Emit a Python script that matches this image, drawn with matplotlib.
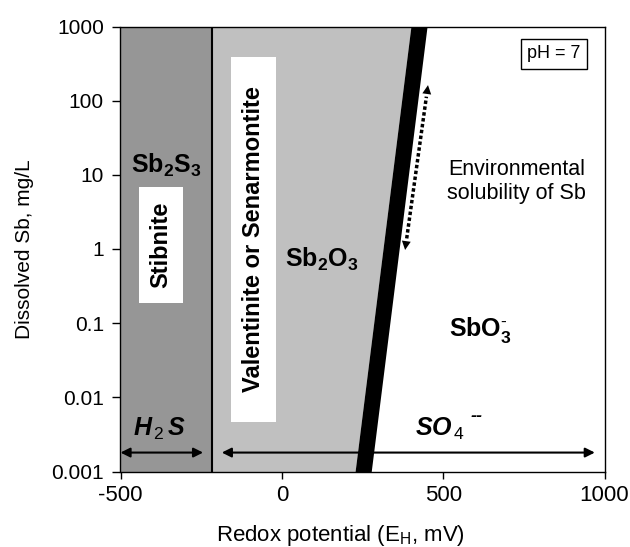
"""Eh - dissolved Sb stability diagram for antimony at pH 7."""

import matplotlib

matplotlib.use("Agg")

import matplotlib.pyplot as plt  # noqa: E402
import numpy as np  # noqa: E402
from matplotlib.patches import Rectangle  # noqa: E402

plt.rcParams["font.family"] = ["Liberation Sans", "DejaVu Sans"]
plt.rcParams["axes.unicode_minus"] = False
plt.rcParams["mathtext.fontset"] = "custom"
plt.rcParams["mathtext.rm"] = "Liberation Sans"
plt.rcParams["mathtext.bf"] = "Liberation Sans:bold"
plt.rcParams["mathtext.it"] = "Liberation Sans:bold:italic"

# --- data ---------------------------------------------------------------
eh_ticks = [-500, 0, 500, 1000]
sb_ticks = [0.001, 0.01, 0.1, 1, 10, 100, 1000]
sb_tick_labels = ["0.001", "0.01", "0.1", "1", "10", "100", "1000"]

eh_min, eh_max = -500, 1000
sb_min, sb_max = 0.001, 1000

stibnite_limit = -215                 # Sb2S3 / Sb2O3 boundary, mV
oxide_limit_eh = [252, 425]           # Sb2O3 / SbO3- boundary (centre), mV
oxide_limit_sb = [0.001, 1000]
oxide_band = 25                       # half width of the drawn boundary, mV

h2s_range = [-500, -244]
so4_range = [-186, 970]
sulfur_level = 0.0018

env_eh = [382, 453]                   # environmental solubility arrow
env_sb = [0.97, 162]

# --- figure -------------------------------------------------------------
fig = plt.figure(figsize=(6.3, 5.47), dpi=100)
ax = fig.add_axes([120.5 / 630, 1 - 471.5 / 547, 484 / 630, 445 / 547])
ax.set_yscale("log")
ax.set_xlim(eh_min, eh_max)
ax.set_ylim(sb_min, sb_max)

# stability fields
ax.axvspan(eh_min, stibnite_limit, color="#969696", lw=0, zorder=0)
left_edge = [e - oxide_band for e in oxide_limit_eh]
right_edge = [e + oxide_band for e in oxide_limit_eh]
ax.fill_betweenx(oxide_limit_sb, stibnite_limit, left_edge,
                 color="#c0c0c0", lw=0, zorder=0)
ax.fill_betweenx(oxide_limit_sb, left_edge, right_edge,
                 color="black", lw=0, zorder=1)
ax.axvline(stibnite_limit, color="black", lw=1.5, zorder=2)

# white label boxes
ax.add_patch(Rectangle((-443, 0.187), 137, 6.86 - 0.187,
                       facecolor="white", edgecolor="none", zorder=2))
ax.add_patch(Rectangle((-158, 0.00464), 140, 388 - 0.00464,
                       facecolor="white", edgecolor="none", zorder=2))

ax.text(-374, 1.13, "Stibnite", rotation=90, fontsize=17, fontweight="bold",
        ha="center", va="center", zorder=3)
ax.text(-88, 1.36, "Valentinite or Senarmontite", rotation=90, fontsize=17,
        fontweight="bold", ha="center", va="center", zorder=3)

ax.text(-357, 13.5, r"$\mathbf{Sb_2S_3}$", fontsize=18,
        ha="center", va="center", zorder=3)
ax.text(123, 0.72, r"$\mathbf{Sb_2O_3}$", fontsize=18,
        ha="center", va="center", zorder=3)
ax.text(614, 0.081, r"$\mathbf{SbO_3^{\text{-}}}$", fontsize=18,
        ha="center", va="center", zorder=3)
ax.text(728, 8.1, "Environmental\nsolubility of Sb", fontsize=15.5,
        ha="center", va="center", zorder=3)
ax.text(843, 430, "pH = 7", fontsize=13, ha="center", va="center", zorder=3,
        bbox=dict(boxstyle="square,pad=0.35", facecolor="white",
                  edgecolor="black", lw=1))

ax.text(-379, 0.0037, r"$\mathit{H_{\,2}\,S}$", fontsize=18,
        ha="center", va="center", zorder=3)
ax.text(490, 0.0037, r"$\mathit{SO_{\,4}}$", fontsize=18,
        ha="center", va="center", zorder=3)
ax.annotate("--", xy=(490, 0.0037), xytext=(22, 9),
            textcoords="offset points", fontsize=13, fontweight="bold",
            fontstyle="italic", ha="left", va="center", zorder=3)

# sulfur species arrows
arrow = dict(arrowstyle="<|-|>", color="black", lw=1.5,
             mutation_scale=14, shrinkA=0, shrinkB=0)
ax.annotate("", xy=(h2s_range[1], sulfur_level),
            xytext=(h2s_range[0], sulfur_level), arrowprops=arrow, zorder=3)
ax.annotate("", xy=(so4_range[1], sulfur_level),
            xytext=(so4_range[0], sulfur_level), arrowprops=arrow, zorder=3)

# environmental solubility range: dotted shaft, solid heads
frac = np.array([0.07, 0.93])
shaft_eh = env_eh[0] + frac * (env_eh[1] - env_eh[0])
shaft_sb = 10 ** (np.log10(env_sb[0]) + frac * np.log10(env_sb[1] / env_sb[0]))
ax.plot(shaft_eh, shaft_sb, color="black", lw=2.5,
        linestyle=(0, (1, 0.7)), zorder=3)
ax.annotate("", xy=(env_eh[1], env_sb[1]), xytext=(env_eh[0], env_sb[0]),
            arrowprops=dict(arrowstyle="<|-|>", color="black", lw=0,
                            mutation_scale=16, shrinkA=0, shrinkB=0),
            zorder=3)

# axes
ax.set_xticks(eh_ticks)
ax.set_xticklabels([str(t) for t in eh_ticks])
ax.set_yticks(sb_ticks)
ax.set_yticklabels(sb_tick_labels)
ax.minorticks_off()
ax.tick_params(axis="x", direction="out", length=5, width=1,
               labelsize=16, pad=5)
ax.tick_params(axis="y", direction="out", length=5.5, width=1,
               labelsize=15, pad=6.5)
for spine in ax.spines.values():
    spine.set_linewidth(1)

ax.set_xlabel(r"Redox potential (E$_\mathrm{H}$, mV)", fontsize=16, va="center")
ax.xaxis.set_label_coords((340 - 120.5) / 484, (471.5 - 535) / 445)
ax.set_ylabel("Dissolved Sb, mg/L", fontsize=15, va="center")
ax.yaxis.set_label_coords((25 - 120.5) / 484, 0.5)

fig.savefig("out.png", dpi=100)
